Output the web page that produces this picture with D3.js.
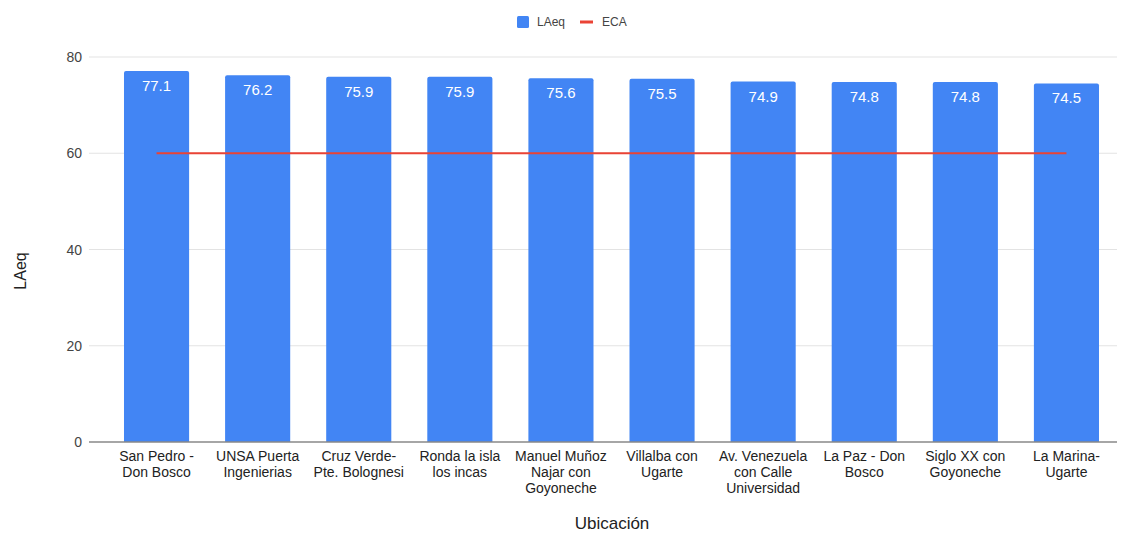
<!DOCTYPE html>
<html>
<head>
<meta charset="utf-8">
<script src="https://cdn.jsdelivr.net/npm/d3@7"></script>
<style>
  html, body { margin: 0; padding: 0; background: #fff; }
  svg { display: block; font-family: "Liberation Sans", Arial, sans-serif; }
</style>
</head>
<body>
<svg id="chart" width="1123" height="535"></svg>
<script>
const categories = [
  ["San Pedro -", "Don Bosco"],
  ["UNSA Puerta", "Ingenierias"],
  ["Cruz Verde-", "Pte. Bolognesi"],
  ["Ronda la isla", "los incas"],
  ["Manuel Muñoz", "Najar con", "Goyoneche"],
  ["Villalba con", "Ugarte"],
  ["Av. Venezuela", "con Calle", "Universidad"],
  ["La Paz - Don", "Bosco"],
  ["Siglo XX con", "Goyoneche"],
  ["La Marina-", "Ugarte"]
];
const laeq = [77.1, 76.2, 75.9, 75.9, 75.6, 75.5, 74.9, 74.8, 74.8, 74.5];
const eca = [60, 60, 60, 60, 60, 60, 60, 60, 60, 60];
const yTicks = [0, 20, 40, 60, 80];
const seriesNames = ["LAeq", "ECA"];

const svg = d3.select("#chart");
const plot = { left: 89, right: 1117, top: 57, bottom: 442 };

const keys = categories.map((c, i) => i);
const x = d3.scaleBand().domain(keys).range([106, 1117]).paddingInner(0.356).paddingOuter(0.178);
const y = d3.scaleLinear().domain([0, 80]).range([plot.bottom, plot.top]);

// gridlines
svg.append("g").selectAll("line").data(yTicks.filter(t => t !== 0)).join("line")
  .attr("x1", plot.left).attr("x2", plot.right)
  .attr("y1", d => y(d)).attr("y2", d => y(d))
  .attr("stroke", "#e3e3e3").attr("stroke-width", 1);

// y axis labels
svg.append("g").selectAll("text").data(yTicks).join("text")
  .attr("x", 82).attr("y", d => y(d) + 5)
  .attr("text-anchor", "end")
  .attr("font-size", 14).attr("fill", "#444")
  .text(d => d);

// bars
const r = 2;
svg.append("g").selectAll("path").data(laeq).join("path")
  .attr("fill", "#4285F4")
  .attr("d", (d, i) => {
    const x0 = x(i), w = x.bandwidth(), y0 = y(d), y1 = y(0);
    return `M${x0},${y1}V${y0 + r}Q${x0},${y0} ${x0 + r},${y0}H${x0 + w - r}Q${x0 + w},${y0} ${x0 + w},${y0 + r}V${y1}Z`;
  });

// baseline
svg.append("line")
  .attr("x1", plot.left).attr("x2", plot.right)
  .attr("y1", y(0)).attr("y2", y(0))
  .attr("stroke", "#888").attr("stroke-width", 1.5);

// value labels
svg.append("g").selectAll("text").data(laeq).join("text")
  .attr("x", (d, i) => x(i) + x.bandwidth() / 2)
  .attr("y", d => y(d) + 20)
  .attr("text-anchor", "middle")
  .attr("font-size", 15).attr("fill", "#ffffff")
  .text(d => d.toFixed(1));

// ECA line
const line = d3.line().x((d, i) => x(i) + x.bandwidth() / 2).y(d => y(d));
svg.append("path").datum(eca)
  .attr("d", line)
  .attr("fill", "none")
  .attr("stroke", "#EA4335").attr("stroke-width", 2);

// x labels
const xl = svg.append("g").selectAll("text").data(categories).join("text")
  .attr("x", (d, i) => x(i) + x.bandwidth() / 2)
  .attr("y", 461)
  .attr("text-anchor", "middle")
  .attr("font-size", 14).attr("fill", "#222");
xl.each(function(d, i) {
  const t = d3.select(this);
  d.forEach((line, j) => {
    t.append("tspan").attr("x", x(i) + x.bandwidth() / 2).attr("dy", j === 0 ? 0 : 16).text(line);
  });
});

// axis titles
svg.append("text")
  .attr("transform", "translate(26,271) rotate(-90)")
  .attr("text-anchor", "middle")
  .attr("font-size", 16).attr("fill", "#222")
  .text("LAeq");
svg.append("text")
  .attr("x", 612).attr("y", 529)
  .attr("text-anchor", "middle")
  .attr("font-size", 17).attr("fill", "#222")
  .text("Ubicación");

// legend
const lg = svg.append("g");
lg.append("rect").attr("x", 517).attr("y", 16).attr("width", 12).attr("height", 12).attr("rx", 1.5).attr("fill", "#4285F4");
lg.append("text").attr("x", 537).attr("y", 26).attr("font-size", 12).attr("fill", "#444").text(seriesNames[0]);
lg.append("line").attr("x1", 580).attr("x2", 593).attr("y1", 22).attr("y2", 22).attr("stroke", "#EA4335").attr("stroke-width", 3);
lg.append("text").attr("x", 602).attr("y", 26).attr("font-size", 12).attr("fill", "#444").text(seriesNames[1]);
</script>
</body>
</html>
